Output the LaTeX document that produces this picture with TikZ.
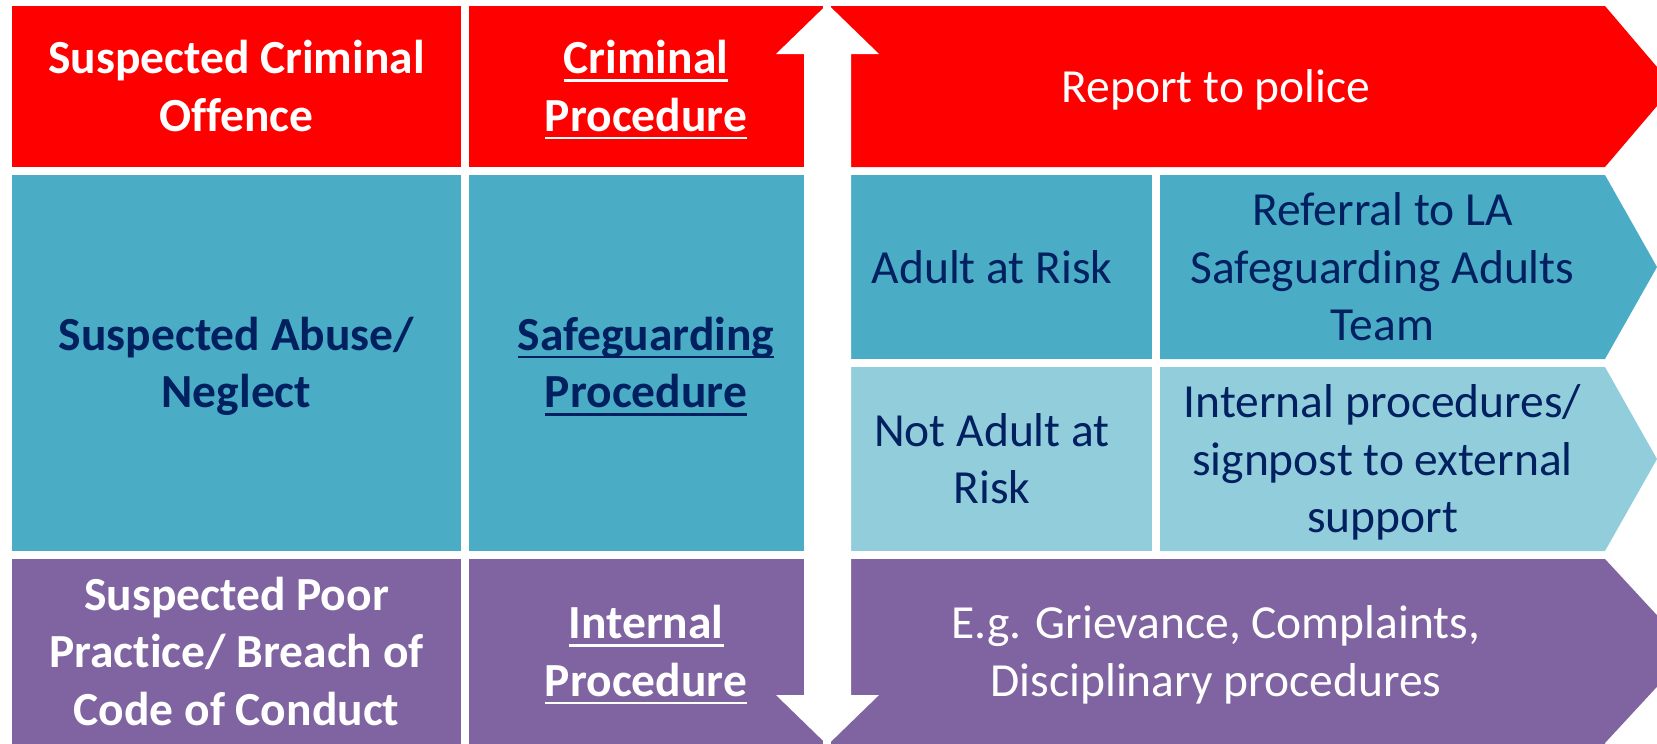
\documentclass[tikz,border=0pt]{standalone}
\usepackage{fontspec}
\setmainfont{Carlito}[Ligatures=NoCommon]
\definecolor{cred}{HTML}{FF0000}
\definecolor{cteal}{HTML}{4BACC6}
\definecolor{clight}{HTML}{92CDDC}
\definecolor{cpurple}{HTML}{8064A2}
\definecolor{cnavy}{HTML}{002060}
\newcommand\ulword[1]{\setbox0\hbox{#1}\rlap{\rule[-8pt]{\wd0}{2.7pt}}\box0}
\newcommand\sst{\rule[-12pt]{0pt}{56pt}}
\begin{document}
\begin{tikzpicture}[x=1pt,y=-1pt,
  rtxt/.style={align=center,inner sep=0pt,font=\fontsize{47.5}{57.5}\selectfont},
  btxt/.style={align=center,inner sep=0pt,font=\fontsize{47.5}{57.5}\selectfont\bfseries}]
\useasboundingbox (0,0) rectangle (1657,744);
\clip (0,0) rectangle (1657,744);
% red row
\fill[cred] (12,6) rectangle (461,167);
\fill[cred] (469,6) rectangle (823,167);
\fill[cred] (831,6) -- (1605,6) -- (1673.6,86.5) -- (1605,167) -- (831,167) -- cycle;
% teal rows
\fill[cteal] (12,175) rectangle (461,551);
\fill[cteal] (469,175) rectangle (823,551);
\fill[cteal] (831,175) rectangle (1152,359);
\fill[cteal] (1160,175) -- (1605,175) -- (1657,267) -- (1605,359) -- (1160,359) -- cycle;
\fill[clight] (831,367) rectangle (1152,551);
\fill[clight] (1160,367) -- (1605,367) -- (1657,459) -- (1605,551) -- (1160,551) -- cycle;
% purple row
\fill[cpurple] (12,559) rectangle (461,750);
\fill[cpurple] (469,559) rectangle (823,750);
\fill[cpurple] (831,559) -- (1605,559) -- (1690,651) -- (1605,743) -- (1605,750) -- (831,750) -- cycle;
% double arrow
\fill[white] (827.5,4) -- (879,54) -- (851,54) -- (851,695) -- (879,695) -- (827.5,745)
  -- (776,695) -- (804,695) -- (804,54) -- (776,54) -- cycle;
% texts
\node[btxt,text=white] (s1) at (236.5,86.5) {\sst Suspected Criminal\\\sst Offence};
\node[btxt,text=white] (p1) at (646,86.5) {\sst\ulword{Criminal}\\\sst\ulword{Procedure}};
\node[rtxt,text=white] (rp) at (1216,86.5) {\sst Report to police};
\node[btxt,text=cnavy] (s2) at (236.5,363) {\sst Suspected Abuse/\\\sst Neglect};
\node[btxt,text=cnavy] (p2) at (646,363) {\sst\ulword{Safeguarding}\\\sst\ulword{Procedure}};
\node[rtxt,text=cnavy] (a1) at (992,267) {\sst Adult at Risk};
\node[rtxt,text=cnavy] (rf) at (1382.5,267) {\sst Referral to LA\\\sst Safeguarding Adults\\\sst Team};
\node[rtxt,text=cnavy] (na) at (992,459) {\sst Not Adult at\\\sst Risk};
\node[rtxt,text=cnavy] (ip) at (1382.5,459) {\sst Internal procedures/\\\sst signpost to external\\\sst support};
\node[btxt,text=white] (s3) at (236.5,651.5) {\sst Suspected Poor\\\sst Practice/ Breach of\\\sst Code of Conduct};
\node[btxt,text=white] (p3) at (646,651.5) {\sst\ulword{Internal}\\\sst\ulword{Procedure}};
\node[rtxt,text=white] (eg) at (1216,651.5) {\sst E.g. Grievance, Complaints,\\\sst Disciplinary procedures};
\end{tikzpicture}
\end{document}
